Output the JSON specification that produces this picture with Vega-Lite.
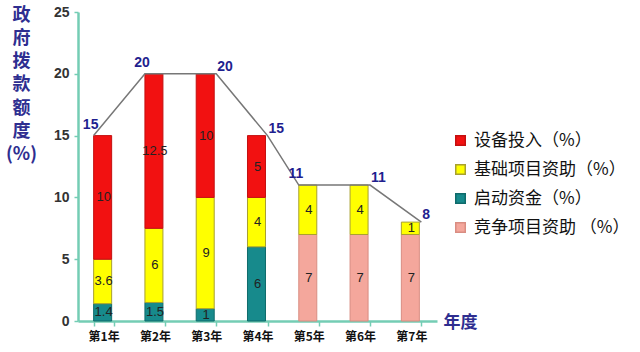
{
  "$schema": "https://vega.github.io/schema/vega-lite/v6.json",
  "width": 359,
  "height": 309,
  "autosize": {"type": "none"},
  "padding": {"left": 78, "top": 12, "right": 203, "bottom": 31},
  "background": "white",
  "config": {
    "view": {"stroke": null},
    "font": "Liberation Sans",
    "axis": {
      "domainColor": "#74cdb4",
      "domainWidth": 2.5,
      "tickColor": "#74cdb4",
      "tickWidth": 1.5,
      "grid": false
    }
  },
  "datasets": {
    "segments": [
      {"year": "第1年", "series": "启动资金（%）", "value": 1.4},
      {"year": "第1年", "series": "基础项目资助（%）", "value": 3.6},
      {"year": "第1年", "series": "设备投入（%）", "value": 10},
      {"year": "第2年", "series": "启动资金（%）", "value": 1.5},
      {"year": "第2年", "series": "基础项目资助（%）", "value": 6},
      {"year": "第2年", "series": "设备投入（%）", "value": 12.5},
      {"year": "第3年", "series": "启动资金（%）", "value": 1},
      {"year": "第3年", "series": "基础项目资助（%）", "value": 9},
      {"year": "第3年", "series": "设备投入（%）", "value": 10},
      {"year": "第4年", "series": "启动资金（%）", "value": 6},
      {"year": "第4年", "series": "基础项目资助（%）", "value": 4},
      {"year": "第4年", "series": "设备投入（%）", "value": 5},
      {"year": "第5年", "series": "竞争项目资助 （%）", "value": 7},
      {"year": "第5年", "series": "基础项目资助（%）", "value": 4},
      {"year": "第6年", "series": "竞争项目资助 （%）", "value": 7},
      {"year": "第6年", "series": "基础项目资助（%）", "value": 4},
      {"year": "第7年", "series": "竞争项目资助 （%）", "value": 7},
      {"year": "第7年", "series": "基础项目资助（%）", "value": 1}
    ],
    "totals": [
      {"year": "第1年", "total": 15, "side": "L"},
      {"year": "第2年", "total": 20, "side": "L"},
      {"year": "第3年", "total": 20, "side": "R"},
      {"year": "第4年", "total": 15, "side": "R"},
      {"year": "第5年", "total": 11, "side": "L"},
      {"year": "第6年", "total": 11, "side": "R"},
      {"year": "第7年", "total": 8, "side": "R"}
    ]
  },
  "layer": [
    {
      "data": {"name": "segments"},
      "transform": [
        {"calculate": "indexof(['启动资金（%）','竞争项目资助 （%）','基础项目资助（%）','设备投入（%）'], datum.series)", "as": "rank"}
      ],
      "mark": {"type": "bar", "strokeWidth": 1},
      "encoding": {
        "x": {
          "field": "year",
          "type": "nominal",
          "scale": {"paddingInner": 0.61, "paddingOuter": 0.305},
          "axis": {
            "title": "年度",
            "titleColor": "#2e2e90",
            "titleFontSize": 17,
            "titleFontWeight": "bold",
            "titleFont": "Noto Sans CJK SC",
            "titleAnchor": "start",
            "titleAlign": "left",
            "titleBaseline": "middle",
            "titleX": 365,
            "titleY": 1,
            "labelAngle": 0,
            "labelFont": "Noto Sans CJK SC",
            "labelFontSize": 12,
            "labelFontWeight": "bold",
            "labelColor": "#111",
            "labelPadding": 5,
            "tickBand": "extent",
            "tickSize": 5
          }
        },
        "y": {
          "field": "value",
          "type": "quantitative",
          "stack": "zero",
          "scale": {"domain": [0, 25], "nice": false},
          "axis": {
            "values": [0, 5, 10, 15, 20, 25],
            "labelFontSize": 14,
            "labelFontWeight": "bold",
            "labelColor": "#333",
            "tickSize": 4,
            "labelPadding": 5,
            "title": ["政", "府", "拨", "款", "额", "度", "(%)"],
            "titleAngle": 0,
            "titleFont": "Noto Sans CJK SC",
            "titleFontSize": 18,
            "titleFontWeight": "bold",
            "titleColor": "#2e2e90",
            "titleLineHeight": 23.3,
            "titleAlign": "center",
            "titleBaseline": "top",
            "titleX": -57,
            "titleY": -6
          }
        },
        "color": {
          "field": "series",
          "type": "nominal",
          "scale": {
            "domain": ["设备投入（%）", "基础项目资助（%）", "启动资金（%）", "竞争项目资助 （%）"],
            "range": ["#f21111", "#ffff00", "#178a8c", "#f4a79c"]
          },
          "legend": {
            "title": null,
            "orient": "none",
            "legendX": 374,
            "legendY": 120,
            "symbolType": "square",
            "symbolSize": 90,
            "labelFont": "Noto Sans CJK SC",
            "labelFontSize": 17,
            "labelColor": "#111",
            "rowPadding": 11,
            "labelOffset": 5
          }
        },
        "stroke": {
          "field": "series",
          "type": "nominal",
          "scale": {
            "domain": ["设备投入（%）", "基础项目资助（%）", "启动资金（%）", "竞争项目资助 （%）"],
            "range": ["#c41010", "#a8a030", "#0f6b6b", "#d98d82"]
          },
          "legend": null
        },
        "order": {"field": "rank", "type": "quantitative"}
      }
    },
    {
      "data": {"name": "segments"},
      "transform": [
        {"calculate": "indexof(['启动资金（%）','竞争项目资助 （%）','基础项目资助（%）','设备投入（%）'], datum.series)", "as": "rank"}
      ],
      "mark": {"type": "text", "fontSize": 13, "color": "#222", "baseline": "middle"},
      "encoding": {
        "x": {"field": "year", "type": "nominal"},
        "y": {"field": "value", "type": "quantitative", "stack": "zero", "bandPosition": 0.5},
        "order": {"field": "rank", "type": "quantitative"},
        "text": {"field": "value", "type": "quantitative"}
      }
    },
    {
      "data": {"name": "totals"},
      "mark": {"type": "line", "color": "#777", "strokeWidth": 1.5},
      "encoding": {
        "x": {"field": "year", "type": "nominal"},
        "xOffset": {"field": "side", "type": "nominal", "scale": {"type": "point", "domain": ["L", "R"], "padding": 0}},
        "y": {"field": "total", "type": "quantitative"}
      }
    },
    {
      "data": {"name": "totals"},
      "transform": [{"filter": "datum.side == 'L'"}],
      "mark": {"type": "text", "fontSize": 14, "fontWeight": "bold", "color": "#1f1f8f", "align": "center", "baseline": "alphabetic", "dx": -3, "dy": -7},
      "encoding": {
        "x": {"field": "year", "type": "nominal"},
        "xOffset": {"field": "side", "type": "nominal", "scale": {"type": "point", "domain": ["L", "R"], "padding": 0}},
        "y": {"field": "total", "type": "quantitative"},
        "text": {"field": "total", "type": "quantitative"}
      }
    },
    {
      "data": {"name": "totals"},
      "transform": [{"filter": "datum.side == 'R'"}],
      "mark": {"type": "text", "fontSize": 14, "fontWeight": "bold", "color": "#1f1f8f", "align": "left", "baseline": "alphabetic", "dx": 1, "dy": -3},
      "encoding": {
        "x": {"field": "year", "type": "nominal"},
        "xOffset": {"field": "side", "type": "nominal", "scale": {"type": "point", "domain": ["L", "R"], "padding": 0}},
        "y": {"field": "total", "type": "quantitative"},
        "text": {"field": "total", "type": "quantitative"}
      }
    }
  ]
}
